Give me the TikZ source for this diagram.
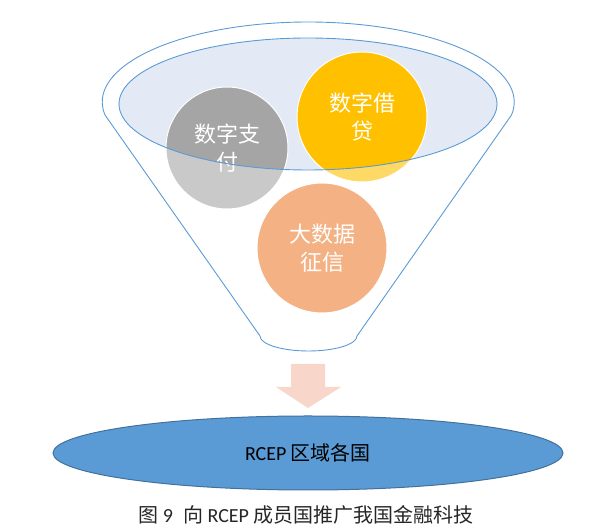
\documentclass[tikz,border=0pt]{standalone}
\usepackage{fontspec}
\setmainfont{Carlito}
\newfontfamily\cjk{Noto Sans CJK SC}
\usetikzlibrary{shapes.geometric}

\definecolor{funnelblue}{HTML}{5B9BD5}
\definecolor{rimfill}{HTML}{E3EAF5}
\definecolor{paydark}{HTML}{A5A5A5}
\definecolor{paylight}{HTML}{C9C9C9}
\definecolor{loandark}{HTML}{FFC000}
\definecolor{loanlight}{HTML}{FFD966}
\definecolor{creditfill}{HTML}{F4B183}
\definecolor{arrowfill}{HTML}{F8D6CA}
\definecolor{baseborder}{HTML}{41719C}

\begin{document}
\begin{tikzpicture}[x=1pt,y=1pt,
  ball/.style={circle,draw=white,line width=1pt,minimum size=#1,inner sep=0pt,
    align=center,text=white,font=\cjk\fontsize{22}{28}\selectfont},
  base/.style={ellipse,draw=baseborder,line width=1pt,fill=funnelblue,
    minimum width=510,minimum height=74,inner sep=0pt,font=\fontsize{20}{24}\selectfont}]
\useasboundingbox (0,0) rectangle (600,532);

% Rim of the funnel
\fill[rimfill] (308,428) ellipse [x radius=189,y radius=66];

% Circles, light parts
\fill[paylight] (227,384) circle (61);
\fill[loanlight] (362,415) circle (65);
\fill[creditfill] (322,284) circle (65);

% Circles, parts inside the rim
\begin{scope}
  \clip (308,428) ellipse [x radius=189,y radius=66];
  \fill[paydark] (227,384) circle (61);
  \fill[loandark] (362,415) circle (65);
\end{scope}

% Labels
\node[ball=122] (pay) at (227,384) {数字支\\付};
\node[ball=130] (loan) at (362,415) {数字借\\贷};
\node[ball=130] (credit) at (322,284) {大数据\\征信};

% Rim border and funnel outline
\draw[funnelblue,line width=0.9pt] (308,428) ellipse [x radius=189,y radius=66];
\draw[funnelblue,line width=0.9pt] (260,196) -- (105,417)
  arc[start angle=189.35,end angle=-9.35,x radius=206,y radius=80]
  -- (357,196) arc[start angle=0,end angle=-180,x radius=48.5,y radius=15] -- cycle;

% Block arrow
\fill[arrowfill] (291,168) -- (325,168) -- (325,145) -- (341,145) -- (308,124)
  -- (276,145) -- (291,145) -- cycle;

% Countries
\node[base] (rcep) at (308,79) {RCEP {\cjk 区域各国}};

% Caption
\node[font=\fontsize{20}{24}\selectfont,text=black!85] (caption) at (306,17)
  {{\cjk 图} 9\enspace{\cjk 向} RCEP {\cjk 成员国推广我国金融科技}};
\end{tikzpicture}
\end{document}
